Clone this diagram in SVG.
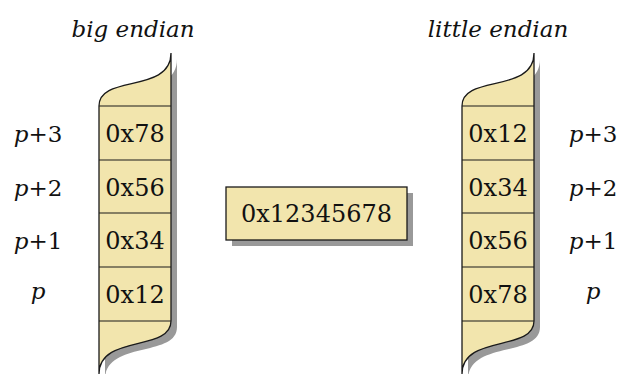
<svg xmlns="http://www.w3.org/2000/svg" xmlns:xlink="http://www.w3.org/1999/xlink" width="620" height="374" viewBox="0 0 620 374">
<style>
.fill{fill:#f2e5ad;stroke:#1a1a1a;stroke-width:1.3}
.shadow{fill:#999999;stroke:none}
.div{stroke:#1a1a1a;stroke-width:1.1;fill:none}
.t{font-family:"DejaVu Serif",serif;font-size:24px;fill:#111;text-anchor:middle}
.h{font-size:23px}
.l{font-size:23px}
.i{font-style:italic}
</style>
<defs>
<path id="col" d="M99,106 C99,74 171,94 171,53 L171,321 C171,352 99,334 99,374 Z"/>
</defs>
<rect width="620" height="374" fill="#ffffff"/>
<g id="big-endian">
<text class="t h i" x="133" y="37">big endian</text>
<use xlink:href="#col" class="shadow" transform="translate(6,6)"/>
<use xlink:href="#col" class="fill"/>
<path class="div" d="M99,106H171M99,160H171M99,213H171M99,267H171M99,321H171"/>
<text class="t" x="135" y="142">0x78</text>
<text class="t" x="135" y="195.5">0x56</text>
<text class="t" x="135" y="249">0x34</text>
<text class="t" x="135" y="303">0x12</text>
</g>
<g id="big-labels">
<text class="t l" x="38" y="142"><tspan class="i">p</tspan>+3</text>
<text class="t l" x="38" y="195.5"><tspan class="i">p</tspan>+2</text>
<text class="t l" x="38" y="249"><tspan class="i">p</tspan>+1</text>
<text class="t l i" x="38" y="299">p</text>
</g>
<g id="value">
<rect x="232" y="193" width="181" height="53" class="shadow"/>
<rect x="226" y="187" width="181" height="53" class="fill"/>
<text class="t" x="316.5" y="222">0x12345678</text>
</g>
<g id="little-endian">
<text class="t h i" x="498" y="37">little endian</text>
<g transform="translate(363,0)">
<use xlink:href="#col" class="shadow" transform="translate(6,6)"/>
<use xlink:href="#col" class="fill"/>
<path class="div" d="M99,106H171M99,160H171M99,213H171M99,267H171M99,321H171"/>
</g>
<text class="t" x="498" y="142">0x12</text>
<text class="t" x="498" y="195.5">0x34</text>
<text class="t" x="498" y="249">0x56</text>
<text class="t" x="498" y="303">0x78</text>
</g>
<g id="little-labels">
<text class="t l" x="593" y="142"><tspan class="i">p</tspan>+3</text>
<text class="t l" x="593" y="195.5"><tspan class="i">p</tspan>+2</text>
<text class="t l" x="593" y="249"><tspan class="i">p</tspan>+1</text>
<text class="t l i" x="593" y="299">p</text>
</g>
</svg>
